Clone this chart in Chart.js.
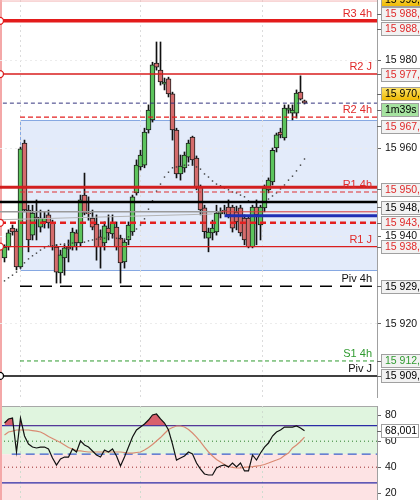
<!DOCTYPE html>
<html>
<head>
<meta charset="utf-8">
<title>Chart</title>
<script src="https://cdn.jsdelivr.net/npm/chart.js@4.4.1/dist/chart.umd.min.js"></script>
<style>
  html, body { margin: 0; padding: 0; background: #fff; }
  #wrap { position: relative; width: 420px; height: 500px; overflow: hidden; }
  #price { position: absolute; left: 0; top: 0; }
  #osc { position: absolute; left: 0; top: 400px; }
  #edge { position: absolute; left: 0; top: 0; width: 2px; height: 500px; background: #f4a8a8; }
</style>
</head>
<body>
<div id="wrap">
  <canvas id="osc" width="420" height="100"></canvas>
  <div id="edge"></div>
  <canvas id="price" width="420" height="398"></canvas>
</div>
<script>
// candles, one per bar (oldest first)
const opens = [15935.0, 15937.5, 15941.8, 15941.1, 15933.0, 15961.1, 15945.9, 15940.2, 15944.3, 15942.0,
  15943.2, 15944.8, 15943.0, 15937.5, 15931.6, 15935.0, 15937.5, 15937.5, 15940.7, 15938.4,
  15949.3, 15945.2, 15944.1, 15942.7, 15939.8, 15938.4, 15941.8, 15940.5, 15942.0, 15939.5,
  15934.1, 15939.1, 15940.9, 15949.8, 15955.7, 15956.1, 15964.1, 15966.4, 15979.3, 15977.7,
  15974.5, 15975.7, 15972.3, 15964.1, 15954.1, 15955.5, 15957.9, 15962.5, 15957.7, 15951.1,
  15946.4, 15939.5, 15940.7, 15940.9, 15945.0, 15945.9, 15946.6, 15946.6, 15945.5, 15946.4,
  15944.1, 15944.1, 15937.5, 15946.6, 15942.5, 15946.4, 15950.5, 15952.3, 15960.0, 15963.6,
  15962.3, 15968.6, 15967.9, 15967.9, 15972.7, 15970.7];
const highs = [15938.0, 15941.4, 15942.5, 15941.6, 15960.2, 15961.8, 15947.0, 15947.0, 15948.2, 15945.9,
  15945.5, 15945.9, 15943.6, 15938.0, 15936.8, 15938.0, 15939.1, 15941.8, 15941.4, 15949.3,
  15954.3, 15948.9, 15945.9, 15944.8, 15941.4, 15943.2, 15944.8, 15944.8, 15943.2, 15940.2,
  15939.1, 15943.2, 15949.3, 15957.3, 15959.5, 15964.5, 15969.8, 15979.5, 15984.1, 15984.1,
  15975.9, 15976.1, 15972.7, 15964.5, 15958.4, 15959.1, 15961.8, 15962.7, 15958.2, 15951.6,
  15947.0, 15941.8, 15943.6, 15947.0, 15946.4, 15947.0, 15948.2, 15947.0, 15946.8, 15947.0,
  15944.8, 15944.5, 15947.0, 15948.2, 15947.0, 15951.6, 15953.2, 15960.0, 15963.4, 15964.5,
  15969.8, 15969.8, 15969.8, 15973.2, 15976.4, 15970.9];
const lows = [15934.1, 15936.8, 15940.2, 15932.3, 15932.7, 15945.5, 15936.4, 15939.1, 15939.1, 15940.9,
  15941.8, 15941.8, 15936.8, 15929.3, 15929.3, 15931.1, 15934.1, 15936.8, 15936.8, 15937.7,
  15944.8, 15943.6, 15941.4, 15934.5, 15932.7, 15936.8, 15939.1, 15939.5, 15936.8, 15929.3,
  15932.7, 15938.0, 15940.2, 15949.3, 15955.0, 15955.5, 15963.4, 15965.9, 15977.7, 15974.3,
  15973.2, 15971.6, 15961.8, 15953.2, 15952.7, 15954.5, 15956.8, 15956.1, 15950.5, 15944.8,
  15939.5, 15936.4, 15939.1, 15940.2, 15944.1, 15945.0, 15944.1, 15940.9, 15941.4, 15940.0,
  15938.0, 15937.3, 15937.3, 15938.0, 15939.1, 15945.5, 15949.8, 15951.6, 15959.1, 15962.3,
  15961.8, 15967.9, 15966.4, 15966.8, 15970.9, 15970.0];
const closes = [15937.5, 15940.7, 15940.9, 15933.0, 15959.8, 15945.9, 15939.1, 15945.2, 15943.9, 15944.1,
  15944.1, 15943.0, 15937.5, 15931.8, 15935.7, 15937.3, 15937.0, 15940.9, 15938.4, 15948.2,
  15945.2, 15945.0, 15942.0, 15937.5, 15937.5, 15942.3, 15940.7, 15943.0, 15937.5, 15933.9,
  15938.6, 15942.5, 15948.9, 15956.1, 15958.4, 15963.6, 15968.6, 15978.9, 15978.4, 15975.0,
  15975.0, 15972.3, 15964.1, 15954.1, 15955.9, 15958.4, 15961.1, 15957.3, 15951.1, 15945.9,
  15941.0, 15940.9, 15941.8, 15945.2, 15945.5, 15945.7, 15944.8, 15941.8, 15943.2, 15940.7,
  15939.1, 15937.5, 15946.6, 15944.8, 15946.6, 15950.9, 15952.7, 15959.5, 15963.0, 15963.0,
  15969.1, 15969.1, 15968.6, 15972.5, 15971.1, 15970.2];

// dotted trailing line under / over the price
const dots = [15929.8, 15930.5, 15931.1, 15931.8, 15932.7, 15933.9, 15934.8, 15935.5, 15936.1, 15936.8,
  15937.3, 15937.7, 15937.8, 15938.0, 15938.1, 15938.2, 15938.3, 15938.4, 15938.4, 15938.4,
  15938.6, 15938.9, 15939.1, 15939.3, 15939.3, 15939.5, 15939.8, 15939.8, 15939.5, 15939.3,
  15939.3, 15939.8, 15940.2, 15941.6, 15942.5, 15943.9, 15946.1, 15948.0, 15950.2, 15951.8,
  15953.4, 15954.5, 15955.5, 15955.7, 15955.9, 15956.1, 15956.1, 15956.1, 15955.7, 15955.2,
  15954.1, 15953.4, 15952.5, 15951.8, 15951.4, 15950.9, 15950.5, 15950.0, 15949.8, 15949.3,
  15948.9, 15948.0, null, null, null, 15947.7, 15948.4, 15949.1, 15949.8, 15950.7,
  15951.6, 15952.7, 15953.6, 15954.8, 15956.1, 15957.5];

// oscillator
const rsi = [74.0, 77.1, 77.8, 51.7, 77.8, 64.0, 57.8, 55.5, 54.8, 55.5,
  55.5, 54.0, 47.1, 41.7, 46.3, 47.8, 47.8, 54.0, 51.7, 60.2,
  57.1, 55.5, 52.5, 49.4, 47.8, 53.2, 51.7, 54.0, 48.6, 40.9,
  47.8, 55.5, 63.2, 68.6, 70.9, 73.2, 76.3, 80.2, 80.9, 77.1,
  74.0, 68.6, 57.8, 45.5, 47.1, 48.6, 51.7, 50.2, 43.2, 38.6,
  34.8, 34.0, 34.0, 39.4, 40.9, 41.7, 40.2, 43.2, 40.2, 43.2,
  37.1, 37.1, 49.4, 45.5, 50.9, 55.5, 58.6, 64.0, 67.1, 68.6,
  70.9, 70.9, 70.9, 71.7, 70.2, 68.0];
const rsiSignal = [64.8, 67.1, 67.8, 68.6, 68.6, 68.6, 68.6, 68.2, 67.8, 67.1,
  65.5, 63.6, 62.1, 60.5, 59.0, 57.1, 55.2, 54.0, 52.8, 52.5,
  52.1, 51.7, 51.7, 51.7, 51.7, 51.7, 51.7, 51.7, 51.7, 51.7,
  51.3, 50.9, 50.9, 51.3, 51.7, 53.2, 55.2, 57.5, 60.2, 62.8,
  65.9, 69.0, 70.5, 71.7, 71.7, 70.9, 69.0, 66.3, 63.2, 59.4,
  55.5, 51.7, 48.6, 45.9, 44.0, 42.1, 40.5, 39.8, 39.4, 39.4,
  39.8, 40.2, 40.5, 40.9, 41.3, 42.1, 43.2, 44.4, 45.5, 46.7,
  49.0, 50.9, 54.8, 57.1, 59.8, 63.2];

// price levels
const levelValues = [15993.4, 15988.9, 15976.8, 15970.2, 15967.0, 15951.1, 15950.0, 15947.7,
  15945.5, 15945.5, 15944.6, 15943.0, 15937.6, 15928.6, 15911.6, 15908.2];
const trendGrey = [15943.7, 15945.0];
const zoneHigh = 15966.4, zoneLow = 15932.3;

const nameTexts = ['R3 4h', 'R2 J', 'R2 4h', 'R1 4h', 'R1 J', 'Piv 4h', 'S1 4h', 'Piv J'];
const nameValues = [15988.9, 15976.8, 15967.0, 15950.0, 15937.6, 15928.6, 15911.6, 15908.2];

const tagTexts = ['15 993,4', '15 988,9', '15 988,5', '15 977,0', '15 970,2', '1m39s', '15 967,0',
  '15 950,9', '15 948,0', '15 943,0', '15 938,0', '15 929,0', '15 912,0', '15 909,0'];
const tagValues = [15993.4, 15988.9, 15988.9, 15976.8, 15970.2, 15970.2, 15967.0,
  15951.1, 15947.7, 15943.0, 15937.6, 15928.6, 15911.6, 15908.2];

const priceTicks = [15980, 15960, 15940, 15920];
const oscTicks = [80, 60, 40, 20];
const oscLevels = [72, 60, 50, 40, 28];
const oscLast = 68.001;

// ---- look ----
const FONT = '10.5px "Liberation Sans", Arial, sans-serif';
const NAME_FONT = '11px "Liberation Sans", Arial, sans-serif';
const RED = '#e02a2a';
const xMin = -1.125, xMax = 93.125;
const gridCols = [3.875, 33.875, 64.375];
const zoneFrom = 3.875;

const levelLook = [
  {from: xMin, to: xMax, color: '#f3b4b4', w: 1},
  {from: xMin, to: xMax, color: '#e31b1b', w: 3.5, ring: true},
  {from: xMin, to: xMax, color: '#d91e1e', w: 1.5, ring: true},
  {from: -0.4, to: xMax, color: '#34347e', w: 1, dash: [4, 3]},
  {from: 3.875, to: xMax, color: '#e32020', w: 1.2, dash: [5, 3]},
  {from: xMin, to: xMax, color: '#d21f1f', w: 3},
  {from: 3.875, to: xMax, color: '#e03030', w: 1.2, dash: [5, 3]},
  {from: xMin, to: xMax, color: '#000000', w: 2.5},
  {from: xMin, to: 54, color: '#9a9a9a', w: 1.5},
  {from: 54, to: xMax, color: '#d83a3a', w: 1},
  {from: 55, to: xMax, color: '#1e2eb4', w: 3},
  {from: xMin, to: xMax, color: '#e32020', w: 2.5, dash: [6, 4], ring: true},
  {from: xMin, to: xMax, color: '#d91e1e', w: 1.3, ring: true},
  {from: 3.875, to: xMax, color: '#000000', w: 1.5, dash: [12, 8]},
  {from: 3.875, to: xMax, color: '#2f9a2f', w: 1, dash: [4, 3]},
  {from: xMin, to: xMax, color: '#000000', w: 1.5, ring: true}
];
const nameColors = [RED, RED, RED, RED, RED, '#111', '#2f9a2f', '#111'];
const tagShift = [-2, -7, 8, 0, -9.5, 6.5, 9, 2, 5, 0, 0, 0, 0, 0];
const tagKind = ['gold', 'red', 'red', 'red', 'gold', 'timer', 'red', 'red', 'black', 'red', 'red', 'black', 'green', 'black'];
const oscLook = [
  {color: '#2b2ba6', w: 1.3, from: xMin},
  {color: '#2a7d2a', w: 1, dash: [1, 3], from: xMin},
  {color: '#3b5fcc', w: 1.3, dash: [9, 5], from: 1.8},
  {color: '#9b2b2b', w: 1, dash: [1, 3], from: xMin},
  {color: '#2b2ba6', w: 1.3, from: xMin}
];

const idx = opens.map((_, i) => i);
const sep = v => String(v).replace(/\B(?=(\d{3})+(?!\d))/g, ' ');
const bodyColors = idx.map(i => closes[i] >= opens[i] ? '#5cc45c' : '#d46c6c');

function drawTag(ctx, y, text, kind, width) {
  const h = 13, x0 = 381.5;
  const top = Math.round(y - h / 2) + 0.5;
  let bg = '#f2f2f2', fg = RED;
  if (kind === 'gold') {
    bg = ctx.createLinearGradient(0, top, 0, top + h);
    bg.addColorStop(0, '#ffe46a');
    bg.addColorStop(1, '#eeb800');
    fg = '#000';
  } else if (kind === 'timer') { bg = '#a6e3a0'; fg = '#000'; }
  else if (kind === 'black') { fg = '#000'; }
  else if (kind === 'green') { fg = '#2f9a2f'; }
  else if (kind === 'white') { bg = '#fff'; fg = '#000'; }
  ctx.save();
  ctx.fillStyle = bg;
  ctx.fillRect(x0, top, width, h);
  ctx.strokeStyle = '#a0a0a0';
  ctx.lineWidth = 1;
  ctx.strokeRect(x0, top, width, h);
  ctx.beginPath();
  ctx.moveTo(377, Math.round(y) + 0.5);
  ctx.lineTo(381, Math.round(y) + 0.5);
  ctx.strokeStyle = '#666';
  ctx.stroke();
  ctx.fillStyle = fg;
  ctx.font = FONT;
  ctx.textBaseline = 'middle';
  ctx.textAlign = 'left';
  ctx.fillText(text, 385, top + h / 2 + 0.5);
  ctx.restore();
}

const zonePlugin = {
  id: 'zone',
  beforeDraw(chart) {
    const {ctx, chartArea: a, scales: {x, y}} = chart;
    const l = Math.round(x.getPixelForValue(zoneFrom)) + 0.5;
    const t = Math.round(y.getPixelForValue(zoneHigh)) + 0.5;
    const b = Math.round(y.getPixelForValue(zoneLow)) + 0.5;
    ctx.save();
    ctx.fillStyle = '#e3ebfa';
    ctx.fillRect(l, t, a.right - l, b - t);
    ctx.strokeStyle = '#86a8e2';
    ctx.lineWidth = 1;
    ctx.beginPath();
    ctx.moveTo(a.right, t); ctx.lineTo(l, t); ctx.lineTo(l, b); ctx.lineTo(a.right, b);
    ctx.stroke();
    ctx.restore();
  }
};

const labelPlugin = {
  id: 'labels',
  afterDraw(chart) {
    const {ctx, scales: {y}} = chart;
    ctx.save();
    ctx.font = NAME_FONT;
    ctx.textAlign = 'right';
    ctx.textBaseline = 'middle';
    nameTexts.forEach((t, k) => {
      ctx.fillStyle = nameColors[k];
      ctx.fillText(t, 372, y.getPixelForValue(nameValues[k]) - 7);
    });
    ctx.restore();
    tagTexts.forEach((t, k) => {
      drawTag(ctx, y.getPixelForValue(tagValues[k]) + tagShift[k], t, tagKind[k], tagKind[k] === 'timer' ? 37 : 60);
    });
  }
};

const levelSets = levelValues.map((v, k) => {
  const s = levelLook[k];
  return {
    type: 'line', data: [{x: s.from, y: v}, {x: s.to, y: v}],
    borderColor: s.color, borderWidth: s.w, borderDash: s.dash || [],
    pointRadius: s.ring ? [3.5, 0] : 0, pointBackgroundColor: '#fff',
    pointBorderColor: s.color, pointBorderWidth: 1.3, order: 0
  };
});

new Chart(document.getElementById('price'), {
  type: 'bar',
  data: {
    datasets: [
      ...levelSets,
      {
        type: 'line', data: [{x: xMin, y: trendGrey[0]}, {x: 52, y: trendGrey[1]}],
        borderColor: '#b4b4b4', borderWidth: 1, pointRadius: 0, order: 0
      },
      {
        type: 'line', data: idx.map(i => ({x: i, y: dots[i]})), showLine: false,
        pointStyle: 'rect', pointRadius: 1, pointBackgroundColor: '#3c3c3c',
        pointBorderWidth: 0, order: 1
      },
      {
        data: idx.map(i => ({x: i, y: [opens[i], closes[i]]})),
        backgroundColor: bodyColors, borderColor: '#1c1c1c', borderWidth: 1,
        borderSkipped: false, barThickness: 5, grouped: false, order: 2
      },
      {
        data: idx.map(i => ({x: i, y: [lows[i], highs[i]]})),
        backgroundColor: '#111', borderWidth: 0, barThickness: 1, grouped: false, order: 3
      }
    ]
  },
  options: {
    responsive: false,
    animation: false,
    events: [],
    devicePixelRatio: 1,
    layout: {padding: 0, autoPadding: false},
    plugins: {legend: {display: false}, tooltip: {enabled: false}},
    scales: {
      x: {
        type: 'linear', min: xMin, max: xMax, offset: false,
        afterBuildTicks: s => { s.ticks = gridCols.map(v => ({value: v})); },
        ticks: {display: false},
        grid: {color: '#dcdcdc', drawTicks: false, offset: false},
        border: {display: false, dash: [2, 3]}
      },
      y: {
        position: 'right', min: 15903.18, max: 15993.64,
        afterBuildTicks: s => { s.ticks = priceTicks.map(v => ({value: v})); },
        afterFit: s => { s.width = 43; s.paddingTop = 0; s.paddingBottom = 0; },
        ticks: {color: '#111', font: {family: '"Liberation Sans", Arial, sans-serif', size: 10.5}, padding: 4, callback: v => sep(v)},
        grid: {color: '#ececec', tickColor: '#666', tickLength: 4, tickBorderDash: []},
        border: {display: true, color: '#a0a0a0', dash: [2, 3]}
      }
    }
  },
  plugins: [zonePlugin, labelPlugin]
});

const bandPlugin = {
  id: 'bands',
  beforeDraw(chart) {
    const {ctx, chartArea: a, scales: {y}} = chart;
    const mid = y.getPixelForValue(50);
    ctx.save();
    ctx.fillStyle = '#e0f5df';
    ctx.fillRect(a.left, a.top, a.right - a.left, mid - a.top);
    ctx.fillStyle = '#fde3e4';
    ctx.fillRect(a.left, mid, a.right - a.left, a.bottom - mid);
    ctx.strokeStyle = '#a8a8a8';
    ctx.lineWidth = 1;
    ctx.beginPath();
    ctx.moveTo(a.left, a.top + 0.5);
    ctx.lineTo(a.right, a.top + 0.5);
    ctx.stroke();
    ctx.restore();
  },
  afterDraw(chart) {
    drawTag(chart.ctx, chart.scales.y.getPixelForValue(oscLast), '68,001', 'white', 37);
  }
};

new Chart(document.getElementById('osc'), {
  type: 'line',
  data: {
    datasets: [
      ...oscLevels.map((v, k) => ({
        data: [{x: oscLook[k].from, y: v}, {x: xMax, y: v}],
        borderColor: oscLook[k].color, borderWidth: oscLook[k].w,
        borderDash: oscLook[k].dash || [], pointRadius: 0, order: 2
      })),
      {
        data: idx.map(i => ({x: i, y: rsiSignal[i]})),
        borderColor: '#d98a72', borderWidth: 1.2, pointRadius: 0, order: 1
      },
      {
        data: idx.map(i => ({x: i, y: rsi[i]})),
        borderColor: '#111', borderWidth: 1.2, pointRadius: 0, order: 0,
        fill: {target: {value: 72}, above: '#d8606c', below: 'rgba(0,0,0,0)'}
      }
    ]
  },
  options: {
    responsive: false,
    animation: false,
    events: [],
    devicePixelRatio: 1,
    layout: {padding: {top: 6, left: 0, right: 0, bottom: 0}, autoPadding: false},
    plugins: {legend: {display: false}, tooltip: {enabled: false}},
    scales: {
      x: {
        type: 'linear', min: xMin, max: xMax,
        afterBuildTicks: s => { s.ticks = gridCols.map(v => ({value: v})); },
        ticks: {display: false},
        grid: {color: '#cfdccf', drawTicks: false},
        border: {display: false, dash: [2, 3]}
      },
      y: {
        position: 'right', min: 14.77, max: 87.08,
        afterBuildTicks: s => { s.ticks = oscTicks.map(v => ({value: v})); },
        afterFit: s => { s.width = 43; s.paddingTop = 0; s.paddingBottom = 0; },
        ticks: {color: '#111', font: {family: '"Liberation Sans", Arial, sans-serif', size: 10.5}, padding: 4},
        grid: {drawOnChartArea: false, tickColor: '#666', tickLength: 4},
        border: {display: true, color: '#a0a0a0'}
      }
    }
  },
  plugins: [bandPlugin]
});
</script>
</body>
</html>
